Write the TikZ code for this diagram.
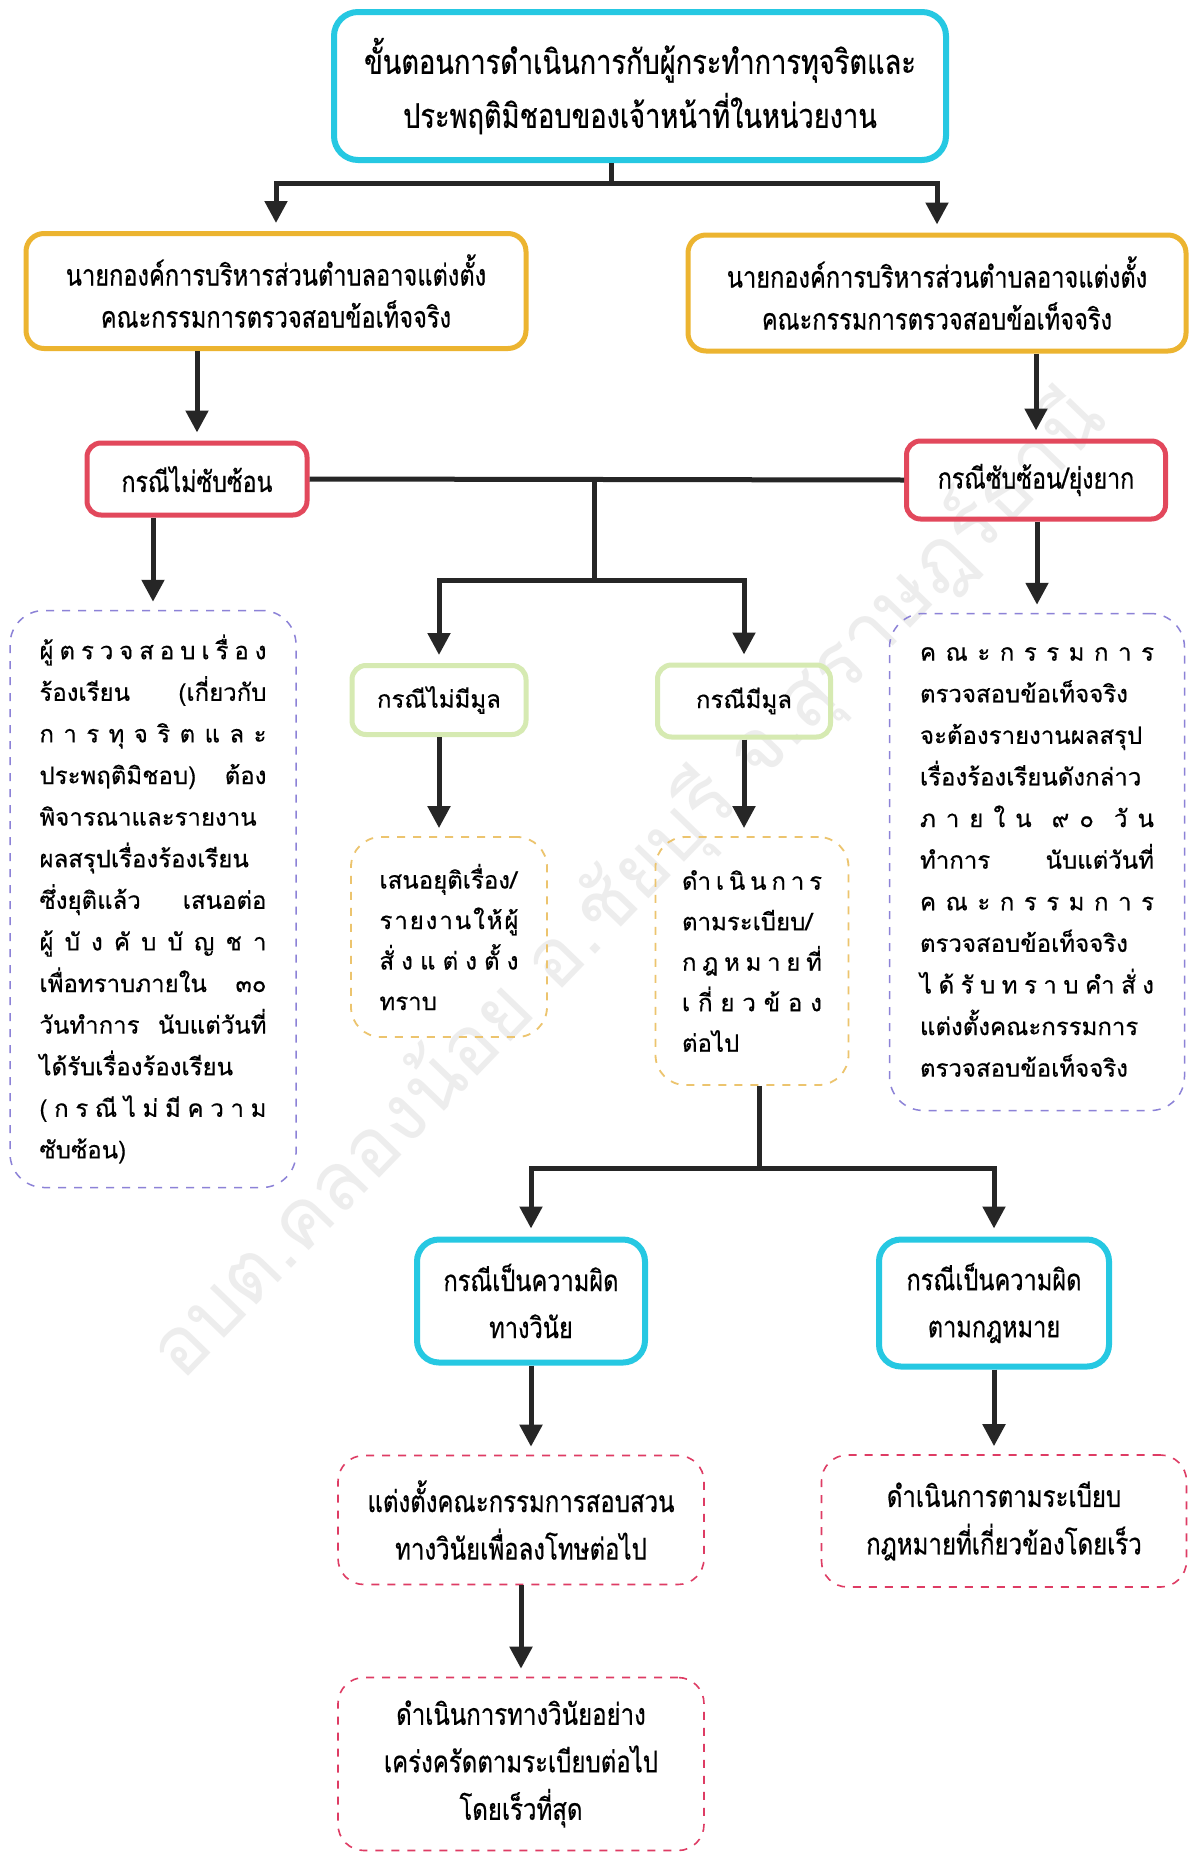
\documentclass[tikz,border=0pt]{standalone}
\usepackage{fontspec}
\setmainfont[Script=Thai,FakeBold=0.5]{Loma}
\newfontfamily\narrowthai[Script=Thai,FakeStretch=0.8,FakeBold=0.5]{Loma}
\newfontfamily\markthai[Script=Thai]{Loma}
\usepackage{tikz}
\usetikzlibrary{arrows.meta}
\definecolor{sky}{RGB}{38, 200, 226}
\definecolor{amber}{RGB}{236, 180, 48}
\definecolor{rose}{RGB}{226, 72, 92}
\definecolor{lime}{RGB}{214, 234, 178}
\definecolor{lilac}{RGB}{140, 130, 215}
\definecolor{sand}{RGB}{236, 196, 110}
\definecolor{blush}{RGB}{222, 60, 100}
\definecolor{ink}{RGB}{38, 38, 38}
\newcommand{\jl}[1]{\leavevmode\hbox to \linewidth{#1}}

\begin{document}
\begin{tikzpicture}[x=1pt, y=-1pt,
    box/.style={rounded corners=18pt, inner sep=0pt, align=center},
    headbox/.style={box, draw=sky, line width=6pt, rounded corners=24pt,
      font=\narrowthai\fontsize{34}{54}\selectfont},
    chiefbox/.style={box, draw=amber, line width=5pt,
      font=\narrowthai\fontsize{29.5}{42}\selectfont},
    casebox/.style={box, draw=rose, line width=5pt, rounded corners=14pt,
      font=\narrowthai\fontsize{29}{42}\selectfont},
    factbox/.style={box, draw=lime, line width=5pt, rounded corners=14pt,
      font=\fontsize{24}{40}\selectfont},
    faultbox/.style={box, draw=sky, line width=6pt, rounded corners=22pt,
      font=\narrowthai\fontsize{29.5}{47}\selectfont},
    notebox/.style={box, draw=lilac, line width=1.5pt, dash pattern=on 8pt off 8pt,
      rounded corners=34pt, align=left, font=\fontsize{24}{41.6}\selectfont},
    stepbox/.style={box, draw=sand, line width=1.8pt, dash pattern=on 8pt off 8pt,
      rounded corners=30pt, align=left, font=\fontsize{24}{40.5}\selectfont},
    endbox/.style={box, draw=blush, line width=1.6pt, dash pattern=on 8pt off 8pt,
      rounded corners=26pt, font=\narrowthai\fontsize{30}{47.5}\selectfont},
    link/.style={draw=ink, line width=5pt},
    flow/.style={link, shorten >=8pt, -{Triangle[length=22pt, width=22pt]}}]

  \useasboundingbox (0, 0) rectangle (1191, 1855);
  \fill[white] (0, 0) rectangle (1191, 1855);

  % watermark
  \node[rotate=46, text=black!7, font=\markthai\fontsize{80}{80}\selectfont] (mark) at (628, 885)
    {อบต.คลองน้อย อ.ชัยบุรี จ.สุราษฎร์ธานี};

  \node[headbox, minimum width=612pt, minimum height=148pt] (head) at (640, 86)
    {ขั้นตอนการดำเนินการกับผู้กระทำการทุจริตและ\\ประพฤติมิชอบของเจ้าหน้าที่ในหน่วยงาน};

  \node[chiefbox, minimum width=500pt, minimum height=115pt] (chiefL) at (276, 291)
    {นายกองค์การบริหารส่วนตำบลอาจแต่งตั้ง\\คณะกรรมการตรวจสอบข้อเท็จจริง};
  \node[chiefbox, minimum width=498pt, minimum height=116pt] (chiefR) at (937, 293)
    {นายกองค์การบริหารส่วนตำบลอาจแต่งตั้ง\\คณะกรรมการตรวจสอบข้อเท็จจริง};

  \node[casebox, minimum width=220pt, minimum height=72pt] (easy) at (197, 479) {กรณีไม่ซับซ้อน};
  \node[casebox, minimum width=259pt, minimum height=78pt] (hard) at (1036, 480) {กรณีซับซ้อน/ยุ่งยาก};

  \node[notebox, minimum width=286pt, minimum height=577pt, text width=227pt] (noteL) at (153, 899)
    {\jl{ผู้\hfill ต\hfill ร\hfill ว\hfill จ\hfill ส\hfill อ\hfill บ\hfill เ\hfill รื่\hfill อ\hfill ง}\\
     \jl{ร้องเรียน\hfill (เกี่ยวกับ}\\
     \jl{ก\hfill า\hfill ร\hfill ทุ\hfill จ\hfill ริ\hfill ต\hfill แ\hfill ล\hfill ะ}\\
     \jl{ประพฤติมิชอบ)\hfill ต้อง}\\
     \jl{พิจารณาและรายงาน\hfil}\\
     \jl{ผลสรุปเรื่องร้องเรียน\hfil}\\
     \jl{ซึ่งยุติแล้ว\hfill เสนอต่อ}\\
     \jl{ผู้\hfill บั\hfill ง\hfill คั\hfill บ\hfill บั\hfill ญ\hfill ช\hfill า}\\
     \jl{เพื่อทราบภายใน\hfill ๓๐}\\
     \jl{วันทำการ\hfill นับแต่วันที่}\\
     \jl{ได้รับเรื่องร้องเรียน\hfil}\\
     \jl{(\hfill ก\hfill ร\hfill ณี\hfill ไ\hfill ม่\hfill มี\hfill ค\hfill ว\hfill า\hfill ม}\\
     \jl{ซับซ้อน)\hfil}};

  \node[notebox, minimum width=295pt, minimum height=497pt, text width=234pt] (noteR) at (1037, 862)
    {\jl{ค\hfill ณ\hfill ะ\hfill ก\hfill ร\hfill ร\hfill ม\hfill ก\hfill า\hfill ร}\\
     \jl{ตรวจสอบข้อเท็จจริง\hfil}\\
     \jl{จะต้องรายงานผลสรุป\hfil}\\
     \jl{เรื่องร้องเรียนดังกล่าว\hfil}\\
     \jl{ภ\hfill า\hfill ย\hfill ใ\hfill น\hfill\hfill ๙\hfill ๐\hfill\hfill วั\hfill น}\\
     \jl{ทำการ\hfill นับแต่วันที่}\\
     \jl{ค\hfill ณ\hfill ะ\hfill ก\hfill ร\hfill ร\hfill ม\hfill ก\hfill า\hfill ร}\\
     \jl{ตรวจสอบข้อเท็จจริง\hfil}\\
     \jl{ไ\hfill ด้\hfill รั\hfill บ\hfill ท\hfill ร\hfill า\hfill บ\hfill คำ\hfill สั่\hfill ง}\\
     \jl{แต่งตั้งคณะกรรมการ\hfil}\\
     \jl{ตรวจสอบข้อเท็จจริง\hfil}};

  \node[factbox, minimum width=174pt, minimum height=69pt] (nofact) at (439, 700) {กรณีไม่มีมูล};
  \node[factbox, minimum width=173pt, minimum height=72pt] (fact) at (744, 701) {กรณีมีมูล};

  \node[stepbox, minimum width=196pt, minimum height=200pt, text width=139pt] (stopL) at (449, 937)
    {\jl{เสนอยุติเรื่อง/\hfil}\\
     \jl{ร\hfill า\hfill ย\hfill ง\hfill า\hfill น\hfill ใ\hfill ห้\hfill ผู้}\\
     \jl{สั่\hfill ง\hfill แ\hfill ต่\hfill ง\hfill ตั้\hfill ง}\\
     \jl{ทราบ\hfil}};
  \node[stepbox, minimum width=193pt, minimum height=248pt, text width=140pt] (goR) at (752, 961)
    {\jl{ดำ\hfill เ\hfill นิ\hfill น\hfill ก\hfill า\hfill ร}\\
     \jl{ตามระเบียบ/\hfil}\\
     \jl{ก\hfill ฎ\hfill ห\hfill ม\hfill า\hfill ย\hfill ที่}\\
     \jl{เ\hfill กี่\hfill ย\hfill ว\hfill ข้\hfill อ\hfill ง}\\
     \jl{ต่อไป\hfil}};

  \node[faultbox, minimum width=228pt, minimum height=123pt] (rule) at (531, 1301)
    {กรณีเป็นความผิด\\ทางวินัย};
  \node[faultbox, minimum width=230pt, minimum height=127pt] (law) at (994, 1303)
    {กรณีเป็นความผิด\\ตามกฎหมาย};

  \node[endbox, minimum width=366pt, minimum height=129pt] (probe) at (521, 1520)
    {แต่งตั้งคณะกรรมการสอบสวน\\ทางวินัยเพื่อลงโทษต่อไป};
  \node[endbox, minimum width=365pt, minimum height=132pt] (lawact) at (1004, 1521)
    {ดำเนินการตามระเบียบ\\กฎหมายที่เกี่ยวข้องโดยเร็ว};
  \node[endbox, minimum width=366pt, minimum height=173pt] (punish) at (521, 1764)
    {ดำเนินการทางวินัยอย่าง\\เคร่งครัดตามระเบียบต่อไป\\โดยเร็วที่สุด};

  % connectors
  \coordinate (top) at (611, 183);
  \draw[link] (head.south -| top) -- (top);
  \draw[flow] (top) -| (chiefL.north);
  \draw[flow] (top) -| (chiefR.north);

  \draw[flow] (chiefL.south -| easy.north) -- (easy.north);
  \draw[flow] (chiefR.south -| hard.north) -- (hard.north);
  \draw[flow] (easy.south -| noteL.north) -- (noteL.north);
  \draw[flow] (hard.south -| noteR.north) -- (noteR.north);

  \coordinate (mid) at (594, 480);
  \coordinate (split) at (594, 580);
  \draw[link] (easy.east) -- (hard.west);
  \draw[link] (mid) -- (split);
  \draw[flow] (split) -| (nofact.north);
  \draw[flow] (split) -| (fact.north);

  \draw[flow] (nofact.south) -- (stopL.north -| nofact.south);
  \draw[flow] (fact.south) -- (goR.north -| fact.south);

  \coordinate (fork) at (759, 1168);
  \draw[link] (goR.south -| fork) -- (fork);
  \draw[flow] (fork) -| (rule.north);
  \draw[flow] (fork) -| (law.north);

  \draw[flow] (rule.south) -- (probe.north -| rule.south);
  \draw[flow] (law.south) -- (lawact.north -| law.south);
  \draw[flow] (probe.south) -- (punish.north);
\end{tikzpicture}
\end{document}
